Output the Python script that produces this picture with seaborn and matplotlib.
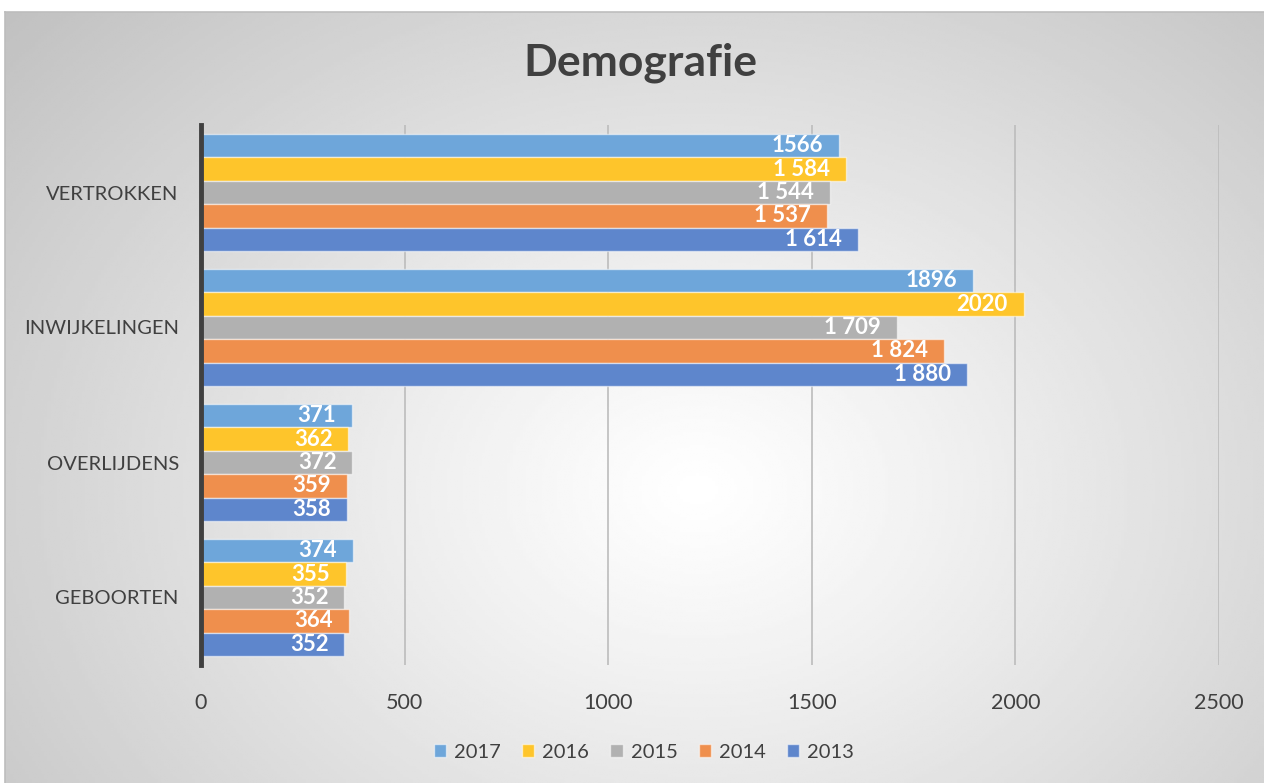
import numpy as np
import pandas as pd
import matplotlib
matplotlib.use("Agg")
import matplotlib.pyplot as plt
import seaborn as sns

# data
categories = ['VERTROKKEN', 'INWIJKELINGEN', 'OVERLIJDENS', 'GEBOORTEN']
years = ['2017', '2016', '2015', '2014', '2013']
v2017 = [1566, 1896, 371, 374]
v2016 = [1584, 2020, 362, 355]
v2015 = [1544, 1709, 372, 352]
v2014 = [1537, 1824, 359, 364]
v2013 = [1614, 1880, 358, 352]
l2017 = ['1566', '1896', '371', '374']
l2016 = ['1 584', '2020', '362', '355']
l2015 = ['1 544', '1 709', '372', '352']
l2014 = ['1 537', '1 824', '359', '364']
l2013 = ['1 614', '1 880', '358', '352']
x_ticks = [0, 500, 1000, 1500, 2000, 2500]

colors = ['#6EA6DA', '#FEC52B', '#B1B1B1', '#EF8F4D', '#5E86CC']

values = [v2017, v2016, v2015, v2014, v2013]
labels = [l2017, l2016, l2015, l2014, l2013]
df = pd.DataFrame({
    'categorie': categories * len(years),
    'jaar': [y for y in years for _ in categories],
    'aantal': [v for vals in values for v in vals],
})

sns.set_style('white')
plt.rcParams['font.family'] = ['Lato', 'DejaVu Sans']

W, H = 1264, 783
fig = plt.figure(figsize=(W / 100, H / 100), dpi=100)
fig.patch.set_facecolor('white')

# radial gradient background of the chart area
bg = fig.add_axes([5 / W, 0, 1 - 5 / W, (H - 12) / H])
xx, yy = np.meshgrid(np.linspace(0, 1, 400), np.linspace(0, 1, 300))
r = np.sqrt(((xx - 0.55) / 0.75) ** 2 + ((yy - 0.62) / 0.95) ** 2)
grad = 1 - 0.25 * np.clip(r, 0, 1) ** 1.1
bg.imshow(grad, cmap='gray', vmin=0, vmax=1, aspect='auto', extent=[0, 1, 0, 1], origin='upper')
bg.set_xticks([])
bg.set_yticks([])
for s in ['right', 'bottom']:
    bg.spines[s].set_visible(False)
for s in ['top', 'left']:
    bg.spines[s].set_color('#bdbdbd')
    bg.spines[s].set_linewidth(1.2)

ax = fig.add_axes([201 / W, 1 - 665 / H, (1219 - 201) / W, (665 - 125) / H])
ax.set_facecolor('none')

sns.barplot(data=df, y='categorie', x='aantal', hue='jaar', hue_order=years,
            order=categories, palette=colors, width=0.87, orient='h',
            edgecolor=(1, 1, 1, 0.55), linewidth=1, saturation=1, ax=ax)

for cont, labs in zip(ax.containers, labels):
    for bar, lab in zip(cont, labs):
        ax.annotate(lab, (bar.get_width(), bar.get_y() + bar.get_height() / 2),
                    xytext=(-11.5, 0), textcoords='offset points',
                    ha='right', va='center', color='white',
                    fontsize=16, fontweight='bold')

ax.set_xlim(0, 2500)
ax.set_xticks(x_ticks)
ax.set_xticklabels([str(t) for t in x_ticks])
ax.xaxis.grid(True, color='#bcbcbc', linewidth=1.2)
ax.set_axisbelow(True)
ax.set_xlabel('')
ax.set_ylabel('')
ax.tick_params(axis='x', length=0, labelsize=15.5, labelcolor='#404040', pad=20)
ax.tick_params(axis='y', length=0, labelsize=14.5, labelcolor='#404040', pad=16)
for s in ['top', 'right', 'bottom']:
    ax.spines[s].set_visible(False)
ax.spines['left'].set_color('#404040')
ax.spines['left'].set_linewidth(3.5)

ax.legend(loc='center', bbox_to_anchor=(644 / W, (H - 752) / H), bbox_transform=fig.transFigure,
          ncol=5, frameon=False, fontsize=14.5, handlelength=0.6, handleheight=0.6,
          handletextpad=0.4, columnspacing=1.05, labelcolor='#404040')

fig.text(640 / W, 1 - 63 / H, 'Demografie', ha='center', va='center',
         fontsize=32, fontweight='bold', color='#404040')

fig.savefig('out.png', dpi=100)
